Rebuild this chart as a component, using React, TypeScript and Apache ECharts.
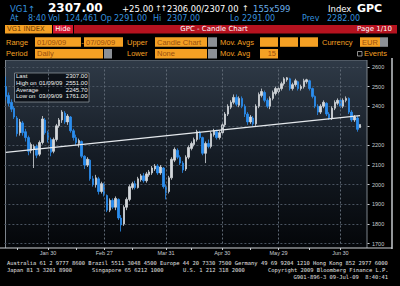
import React, { useEffect, useRef } from "react";
import * as echarts from "echarts";

// ---- trading days (Jan 9 2009 .. Jul 9 2009) ----
const janDays = [9, 12, 13, 14, 15, 16, 19, 20, 21, 22, 23, 26, 27, 28, 29, 30];
const febDays = [2, 3, 4, 5, 6, 9, 10, 11, 12, 13, 16, 17, 18, 19, 20, 23, 24, 25, 26, 27];
const marDays = [2, 3, 4, 5, 6, 9, 10, 11, 12, 13, 16, 17, 18, 19, 20, 23, 24, 25, 26, 27, 30, 31];
const aprDays = [1, 2, 3, 6, 7, 8, 9, 14, 15, 16, 17, 20, 21, 22, 23, 24, 27, 28, 29, 30];
const mayDays = [4, 5, 6, 7, 8, 11, 12, 13, 14, 15, 18, 19, 20, 21, 22, 25, 26, 27, 28, 29];
const junDays = [1, 2, 3, 4, 5, 8, 9, 10, 11, 12, 15, 16, 17, 18, 19, 22, 23, 24, 25, 26, 29, 30];
const julDays = [1, 2, 3, 6, 7, 8, 9];
const monthNames = ["Jan", "Feb", "Mar", "Apr", "May", "Jun", "Jul"];
const monthDays = [janDays, febDays, marDays, aprDays, mayDays, junDays, julDays];

const pad = (n: number) => (n < 10 ? "0" + n : "" + n);
const categories: string[] = [];
monthDays.forEach((days, m) => days.forEach((d) => categories.push(`2009-${pad(m + 1)}-${pad(d)}`)));

const labelDates = ["2009-01-30", "2009-02-27", "2009-03-31", "2009-04-30", "2009-05-29", "2009-06-30"];
const tickDates = [
  "2009-01-15", "2009-01-30", "2009-02-13", "2009-02-27", "2009-03-13", "2009-03-31",
  "2009-04-15", "2009-04-30", "2009-05-15", "2009-05-29", "2009-06-15", "2009-06-30",
];

// ---- OHLC ----
const opens = [
  2500, 2455, 2420, 2390, 2340, 2265, 2315, 2270, 2240, 2175,
  2180, 2195, 2155, 2215, 2330, 2265, 2230, 2170, 2230, 2300,
  2330, 2365, 2320, 2345, 2275, 2240, 2210, 2220, 2145, 2100,
  2125, 2030, 2000, 2030, 1965, 2000, 1945, 1870, 1920, 1885,
  1925, 1830, 1800, 1885, 1925, 1985, 2005, 1985, 2025, 2045,
  2020, 2050, 2060, 2080, 2095, 2060, 2085, 1990, 1965, 2035,
  2125, 2175, 2140, 2110, 2080, 2140, 2185, 2205, 2230, 2265,
  2240, 2160, 2210, 2195, 2255, 2270, 2240, 2265, 2305, 2360,
  2395, 2420, 2445, 2405, 2440, 2400, 2360, 2320, 2340, 2310,
  2400, 2455, 2470, 2430, 2400, 2440, 2465, 2475, 2490, 2515,
  2535, 2540, 2490, 2510, 2525, 2490, 2500, 2525, 2530, 2490,
  2450, 2400, 2370, 2400, 2415, 2360, 2340, 2390, 2415, 2430,
  2400, 2430, 2440, 2370, 2330, 2340, 2291,
];
const closes = [
  2450, 2415, 2385, 2345, 2260, 2320, 2265, 2240, 2170, 2205,
  2195, 2150, 2215, 2335, 2265, 2230, 2165, 2230, 2300, 2330,
  2370, 2320, 2350, 2275, 2240, 2215, 2225, 2145, 2100, 2130,
  2030, 2000, 2035, 1965, 2005, 1950, 1870, 1920, 1885, 1930,
  1830, 1795, 1885, 1925, 1990, 2005, 1985, 2030, 2045, 2020,
  2055, 2065, 2085, 2095, 2060, 2090, 1990, 1960, 2035, 2130,
  2180, 2140, 2110, 2075, 2140, 2190, 2210, 2230, 2270, 2240,
  2160, 2210, 2195, 2260, 2275, 2240, 2265, 2305, 2360, 2400,
  2420, 2445, 2410, 2440, 2400, 2360, 2320, 2345, 2310, 2400,
  2460, 2475, 2430, 2400, 2440, 2470, 2490, 2490, 2515, 2540,
  2545, 2490, 2510, 2530, 2490, 2500, 2530, 2535, 2490, 2450,
  2400, 2370, 2400, 2420, 2360, 2340, 2390, 2420, 2430, 2400,
  2430, 2440, 2370, 2330, 2345, 2282, 2307,
];
const lows = [
  2430, 2400, 2370, 2335, 2245, 2250, 2250, 2220, 2150, 2160,
  2085, 2135, 2145, 2205, 2255, 2215, 2145, 2160, 2220, 2290,
  2315, 2310, 2305, 2265, 2225, 2200, 2190, 2135, 2080, 2090,
  2020, 1990, 1985, 1950, 1955, 1940, 1860, 1860, 1875, 1870,
  1820, 1761, 1790, 1870, 1915, 1975, 1975, 1980, 2015, 2010,
  2010, 2040, 2050, 2070, 2050, 2050, 1980, 1925, 1955, 2025,
  2115, 2130, 2100, 2060, 2070, 2130, 2175, 2195, 2220, 2230,
  2150, 2110, 2185, 2185, 2245, 2230, 2230, 2255, 2295, 2350,
  2385, 2410, 2400, 2395, 2390, 2345, 2305, 2310, 2300, 2300,
  2390, 2445, 2420, 2390, 2385, 2430, 2455, 2465, 2480, 2505,
  2525, 2480, 2480, 2500, 2480, 2480, 2490, 2515, 2480, 2440,
  2390, 2355, 2360, 2390, 2350, 2330, 2330, 2380, 2405, 2390,
  2390, 2420, 2360, 2320, 2320, 2270, 2291,
];
const highs = [
  2551, 2470, 2435, 2400, 2350, 2335, 2325, 2285, 2250, 2215,
  2205, 2205, 2225, 2350, 2340, 2275, 2240, 2240, 2310, 2340,
  2380, 2375, 2360, 2350, 2285, 2255, 2235, 2225, 2150, 2140,
  2130, 2045, 2050, 2040, 2015, 2010, 1950, 1930, 1930, 1940,
  1930, 1845, 1895, 1935, 2000, 2015, 2020, 2040, 2055, 2060,
  2065, 2075, 2095, 2105, 2105, 2100, 2090, 2000, 2045, 2140,
  2190, 2185, 2150, 2120, 2150, 2200, 2220, 2240, 2280, 2275,
  2245, 2220, 2230, 2270, 2285, 2280, 2275, 2315, 2370, 2410,
  2430, 2460, 2460, 2450, 2450, 2410, 2370, 2355, 2350, 2410,
  2470, 2490, 2480, 2440, 2450, 2480, 2500, 2500, 2525, 2548,
  2549, 2545, 2520, 2540, 2530, 2510, 2540, 2540, 2535, 2495,
  2455, 2410, 2410, 2430, 2420, 2370, 2400, 2430, 2440, 2440,
  2440, 2450, 2445, 2380, 2355, 2350, 2307,
];

const trendStart = 2165;
const trendEnd = 2352;
const lastPrice = 2307;
const yTicks = { min: 1700, max: 2600, interval: 100 };

const statLabels = ["Last", "High on", "Average", "Low on"];
const statDates = ["", "01/09/09", "", "03/09/09"];
const statValues = ["2307.00", "2551.00", "2245.70", "1761.00"];

const quoteTokens: [number, string][] = [
  [10, "At"], [28, "8:40"], [48, "Vol"], [65, "124,461"], [100.5, "Op"], [114, "2291.00"],
  [153, "Hi"], [167, "2307.00"], [230, "Lo"], [242, "2291.00"], [302, "Prev"], [327, "2282.00"],
];

const BLUE = "#3490de";
const ORANGE = "#f4a024";
const BOXTXT = "#9a4f0e";
const GREY = "#8c9096";
const DV = '"DejaVu Sans"';
const LS = '"Liberation Sans"';
const MONO = '"DejaVu Sans Mono"';

const txt = (x: number, y: number, text: string, fill: string, font: string, align = "left", extra: any = {}) => ({
  type: "text",
  x,
  y,
  silent: true,
  style: { text, fill, font, align, verticalAlign: "middle", textAlign: align, textVerticalAlign: "middle" },
  ...extra,
});
const rect = (x: number, y: number, w: number, h: number, fill: any, extra: any = {}) => ({
  type: "rect",
  silent: true,
  shape: { x, y, width: w, height: h },
  style: { fill },
  ...extra,
});
const ln = (x1: number, y1: number, x2: number, y2: number, stroke: string, lineWidth = 1) => ({
  type: "line",
  silent: true,
  shape: { x1, y1, x2, y2 },
  style: { stroke, lineWidth },
});

function buildGraphic() {
  const g: any[] = [];
  // Row 1
  g.push(txt(10, 8.5, "VG1", BLUE, `8.5px ${DV}`));
  g.push(txt(28, 8.5, "↑", BLUE, `8.5px ${DV}`));
  g.push(txt(48, 8, "2307.00", "#ffffff", `bold 12px ${DV}`));
  g.push(txt(122, 8.5, "+25.00", "#ffffff", `8.5px ${DV}`));
  g.push(txt(155, 8.5, "↑", "#ffffff", `8px ${DV}`));
  g.push(txt(160.5, 8.5, "↑", "#ffffff", `8px ${DV}`));
  g.push(txt(167, 8.5, "2306.00/2307.00", "#ffffff", `8.3px ${DV}`));
  g.push(txt(242, 8.5, "↑", "#ffffff", `8px ${DV}`));
  g.push(txt(253, 8.5, "155x599", "#6aaee8", `8.5px ${DV}`));
  g.push(txt(328, 8.5, "Index", "#ffffff", `8.5px ${DV}`));
  g.push(txt(357, 8.5, "GPC", "#ffffff", `bold 11px ${DV}`));
  // Row 2
  quoteTokens.forEach(([x, t]) => g.push(txt(x, 18.5, t, BLUE, `8px ${DV}`)));
  // Row 3
  g.push(rect(5, 25, 47, 8.5, ORANGE));
  g.push(txt(7, 29.3, "VG1 INDEX", "#6b3a05", `6.8px ${DV}`));
  g.push(rect(53, 25, 20, 8.5, "#d3162e"));
  g.push(txt(63, 29.3, "Hide", "#ffffff", `6.8px ${DV}`, "center"));
  g.push(rect(74, 25, 323, 8.5, "#b5121f"));
  g.push(txt(214, 29.3, "GPC - Candle Chart", "#ffffff", `7px ${DV}`, "center"));
  g.push(txt(357, 29.3, "Page 1/10", "#ffffff", `7px ${DV}`));
  // Row 4
  const r4 = 42;
  g.push(txt(6, r4, "Range", ORANGE, `7.5px ${LS}`));
  g.push(rect(35, 37.3, 46, 9.5, ORANGE));
  g.push(txt(37, r4, "01/09/09", BOXTXT, `7.5px ${LS}`));
  g.push(txt(82.5, r4, "-", ORANGE, `7.5px ${LS}`, "center"));
  g.push(rect(84, 37.3, 39, 9.5, ORANGE));
  g.push(txt(86, r4, "07/09/09", BOXTXT, `7.5px ${LS}`));
  g.push(txt(127, r4, "Upper", ORANGE, `7.5px ${LS}`));
  g.push(rect(155, 37.3, 52, 9.5, ORANGE));
  g.push(txt(157, r4, "Candle Chart", BOXTXT, `7.5px ${LS}`));
  g.push(rect(208, 37.3, 9, 9.5, GREY));
  g.push(txt(220, r4, "Mov. Avgs", ORANGE, `7.5px ${LS}`));
  g.push(rect(260, 37.3, 18, 9.5, ORANGE));
  g.push(rect(280, 37.3, 18, 9.5, ORANGE));
  g.push(rect(300, 37.3, 18, 9.5, ORANGE));
  g.push(txt(322, r4, "Currency", ORANGE, `7.5px ${LS}`));
  g.push(rect(360, 37.3, 20, 9.5, ORANGE));
  g.push(txt(362, r4, "EUR", BOXTXT, `7.5px ${LS}`));
  g.push(rect(380, 37.3, 8, 9.5, GREY));
  // Row 5
  const r5 = 53.7;
  g.push(txt(6, r5, "Period", ORANGE, `7.5px ${LS}`));
  g.push(rect(35, 49, 68, 9.5, ORANGE));
  g.push(txt(37, r5, "Daily", BOXTXT, `7.5px ${LS}`));
  g.push(rect(104, 49, 8, 9.5, GREY));
  g.push(txt(127, r5, "Lower", ORANGE, `7.5px ${LS}`));
  g.push(rect(155, 49, 52, 9.5, ORANGE));
  g.push(txt(157, r5, "None", BOXTXT, `7.5px ${LS}`));
  g.push(rect(208, 49, 9, 9.5, GREY));
  g.push(txt(220, r5, "Mov. Avg", ORANGE, `7.5px ${LS}`));
  g.push(rect(260, 49, 18, 9.5, ORANGE));
  g.push(txt(276, r5, "15", BOXTXT, `7.5px ${LS}`, "right"));
  g.push({
    type: "rect",
    silent: true,
    shape: { x: 357.5, y: 51.5, width: 4.5, height: 4.5 },
    style: { fill: "none", stroke: "#c8c8c8", lineWidth: 0.7 },
  });
  g.push(txt(364, r5, "Events", ORANGE, `7.5px ${LS}`));

  // Plot background
  g.push(
    rect(5, 60, 362, 188, {
      type: "linear", x: 0, y: 0, x2: 0, y2: 1,
      colorStops: [
        { offset: 0, color: "#2f3a47" },
        { offset: 0.5, color: "#151c25" },
        { offset: 1, color: "#040609" },
      ],
    }, { z: -10 })
  );
  // Frame
  g.push(ln(5, 60.5, 367, 60.5, "#4f5964", 1));
  g.push(ln(5.5, 60, 5.5, 248, "#7d848c", 1));
  g.push(ln(367, 60, 367, 248, "#7d848c", 1));
  g.push(ln(392, 58, 392, 249, "#c4c8cc", 1.5));
  g.push(ln(0, 248, 392, 248, "#d0d4d8", 1));

  // Info box
  g.push({
    type: "rect",
    silent: true,
    shape: { x: 14.5, y: 73, width: 74.5, height: 29 },
    style: { fill: "rgba(8,12,18,0.85)", stroke: "#9aa0a8", lineWidth: 0.7 },
  });
  const rowsY = [76.3, 82.9, 89.5, 96.1];
  statLabels.forEach((l, i) => {
    g.push(txt(16, rowsY[i], l, "#f2f2f2", `6px ${LS}`));
    if (statDates[i]) g.push(txt(39, rowsY[i], statDates[i], "#f2f2f2", `6px ${LS}`));
    g.push(txt(87.5, rowsY[i], statValues[i], "#f2f2f2", `6px ${LS}`, "right"));
  });

  // Footer
  const fFont = `5.41px ${MONO}`;
  const fCol = "#e2e2e2";
  g.push(txt(7, 263, "Australia 61 2 9777 8600 Brazil 5511 3048 4500 Europe 44 20 7330 7500 Germany 49 69 9204 1210 Hong Kong 852 2977 6000", fCol, fFont));
  g.push(txt(7, 270, "Japan 81 3 3201 8900", fCol, fFont));
  g.push(txt(92, 270, "Singapore 65 6212 1000", fCol, fFont));
  g.push(txt(183, 270, "U.S. 1 212 318 2000", fCol, fFont));
  g.push(txt(268, 270, "Copyright 2009 Bloomberg Finance L.P.", fCol, fFont));
  g.push(txt(388, 277, "G901-896-3 09-Jul-09  8:40:41", fCol, fFont, "right"));
  return g;
}

function fmtDate(v: string) {
  const m = parseInt(v.slice(5, 7), 10);
  return `${monthNames[m - 1]} ${v.slice(8, 10)}`;
}

export default function App() {
  const ref = useRef<HTMLDivElement>(null);
  useEffect(() => {
    if (!ref.current) return;
    const chart = echarts.init(ref.current, null, { renderer: "svg" });
    const ohlc = categories.map((_, i) => [opens[i], closes[i], lows[i], highs[i]]);
    const vLines = labelDates.map((d) => ({
      xAxis: d,
      lineStyle: { color: "#5e6874", type: [2, 2], width: 1 },
    }));
    chart.setOption({
      animation: false,
      backgroundColor: "#000000",
      graphic: buildGraphic(),
      grid: { left: 4.4, right: 38.5, top: 67, bottom: 42.5, containLabel: false },
      xAxis: {
        type: "category",
        data: categories,
        boundaryGap: true,
        offset: 4.5,
        axisLine: { show: false },
        axisTick: {
          show: true,
          alignWithLabel: true,
          length: 2,
          interval: (_i: number, v: string) => tickDates.includes(v),
          lineStyle: { color: "#c8ccd0", width: 1 },
        },
        axisLabel: {
          interval: (_i: number, v: string) => labelDates.includes(v),
          formatter: (v: string) => fmtDate(v),
          fontSize: 5.5,
          fontFamily: "Liberation Sans",
          color: "#c8ccd0",
          margin: 2,
        },
        splitLine: { show: false },
      },
      yAxis: {
        type: "value",
        position: "right",
        min: yTicks.min,
        max: yTicks.max,
        interval: yTicks.interval,
        offset: 6,
        axisLine: { show: false },
        axisTick: { show: true, length: 2, lineStyle: { color: "#c8ccd0" } },
        axisLabel: {
          fontSize: 5.5,
          fontFamily: "Liberation Sans",
          color: "#c8ccd0",
          margin: 4.5,
          formatter: (v: number) => (v === 2300 ? "" : String(v)),
        },
        splitLine: { show: true, lineStyle: { color: "#4a5461", type: [2, 2], width: 1 } },
      },
      series: [
        {
          type: "candlestick",
          data: ohlc,
          barWidth: 2,
          itemStyle: {
            color: "#d4d8dc",
            color0: "#2b8ef0",
            borderColor: "#d4d8dc",
            borderColor0: "#2b8ef0",
            borderWidth: 0.8,
          },
          markLine: {
            silent: true,
            symbol: ["none", "none"],
            label: { show: false },
            data: [
              ...vLines,
              [
                {
                  coord: [categories[0], trendStart],
                  lineStyle: { color: "#e4e8ec", width: 1.3, type: "solid" },
                },
                { coord: [categories[categories.length - 1], trendEnd] },
              ],
              {
                yAxis: lastPrice,
                lineStyle: { opacity: 0 },
                label: {
                  show: true,
                  position: "end",
                  distance: 7,
                  formatter: "2307.00",
                  backgroundColor: "#e8e8e8",
                  color: "#000000",
                  fontSize: 5.5,
                  fontFamily: "Liberation Sans",
                  padding: [1.5, 1.5, 1, 1.5],
                },
              },
            ],
          },
        },
      ],
    });
    return () => chart.dispose();
  }, []);
  return (
    <div
      ref={ref}
      style={{ position: "fixed", left: 0, top: 0, width: 400, height: 286, background: "#000" }}
    />
  );
}
